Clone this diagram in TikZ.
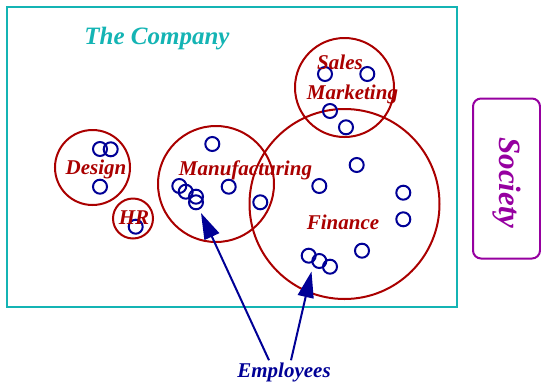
\documentclass[tikz,border=0pt]{standalone}
\usepackage{fontspec}
\setmainfont{Liberation Serif}
\usetikzlibrary{arrows.meta}
\definecolor{compc}{RGB}{20,180,180}
\definecolor{deptc}{RGB}{170,0,0}
\definecolor{empc}{RGB}{0,0,150}
\definecolor{socc}{RGB}{150,0,160}
\tikzset{
  dept/.style={circle,draw=deptc,line width=2pt,inner sep=0pt,minimum size=#1},
  emp/.style={circle,draw=empc,line width=2pt,inner sep=0pt,minimum size=14pt},
  dlabel/.style={text=deptc,font=\fontsize{21}{24}\selectfont\bfseries\itshape,inner sep=0pt},
  pointer/.style={draw=empc,line width=2pt,-{Triangle[length=26pt,width=16pt]}}
}
\begin{document}
\begin{tikzpicture}[x=1pt,y=-1pt]
\useasboundingbox (0,0) rectangle (541,381);
% company
\node[draw=compc,line width=2.2pt,minimum width=450pt,minimum height=300pt,inner sep=0pt] (company) at (232,157) {};
\node[text=compc,font=\fontsize{25}{28}\selectfont\bfseries\itshape,inner sep=0pt] (ctitle) at (157,39) {The Company};
% society
\node[draw=socc,line width=2pt,rounded corners=8pt,minimum width=67pt,minimum height=160pt,inner sep=0pt] (society) at (506.5,178.5) {};
\node[text=socc,font=\fontsize{31}{34}\selectfont\bfseries\itshape,rotate=-90,inner sep=0pt] (soctext) at (507,183) {Society};
% departments
\node[dept=75pt] (design) at (92.5,167.5) {};
\node[dept=40pt] (hr) at (133,218.5) {};
\node[dept=116pt] (manu) at (216,184) {};
\node[dept=190pt] (fin) at (344.5,204) {};
\node[dept=99pt] (sales) at (344.5,87.5) {};
% employees
\node[emp] (e1) at (100,149) {};
\node[emp] (e2) at (110.7,149.3) {};
\node[emp] (e3) at (100,186.7) {};
\node[emp] (e4) at (135.7,226.7) {};
\node[emp] (e5) at (212.3,144) {};
\node[emp] (e6) at (179.3,186) {};
\node[emp] (e7) at (185.7,191.7) {};
\node[emp] (e8) at (196,196.7) {};
\node[emp] (e9) at (196,202.3) {};
\node[emp] (e10) at (228.7,186.7) {};
\node[emp] (e11) at (260.3,202.3) {};
\node[emp] (e12) at (325,74) {};
\node[emp] (e13) at (367.3,74) {};
\node[emp] (e14) at (330,111) {};
\node[emp] (e15) at (346,127.3) {};
\node[emp] (e16) at (356.7,165) {};
\node[emp] (e17) at (319.3,186) {};
\node[emp] (e18) at (403.3,192.7) {};
\node[emp] (e19) at (403.3,219.3) {};
\node[emp] (e20) at (362,250.7) {};
\node[emp] (e21) at (308.7,255.7) {};
\node[emp] (e22) at (319.3,261) {};
\node[emp] (e23) at (330,266.7) {};
% labels
\node[dlabel] (ldesign) at (96,169) {Design};
\node[dlabel] (lhr) at (134,217.5) {HR};
\node[dlabel] (lmanu) at (245.5,170) {Manufacturing};
\node[dlabel] (lfin) at (343,222) {Finance};
\node[dlabel] (lsales) at (340,62) {Sales};
\node[dlabel] (lmark) at (352.5,94) {Marketing};
% pointers
\node[text=empc,font=\fontsize{21}{24}\selectfont\bfseries\itshape,inner sep=0pt] (employees) at (284,372) {Employees};
\coordinate (tip1) at (201,213);
\coordinate (tip2) at (311.5,271.5);
\draw[pointer] ([xshift=-15pt,yshift=2pt]employees.north) -- (tip1);
\draw[pointer] ([xshift=7pt,yshift=2pt]employees.north) -- (tip2);
\end{tikzpicture}
\end{document}
